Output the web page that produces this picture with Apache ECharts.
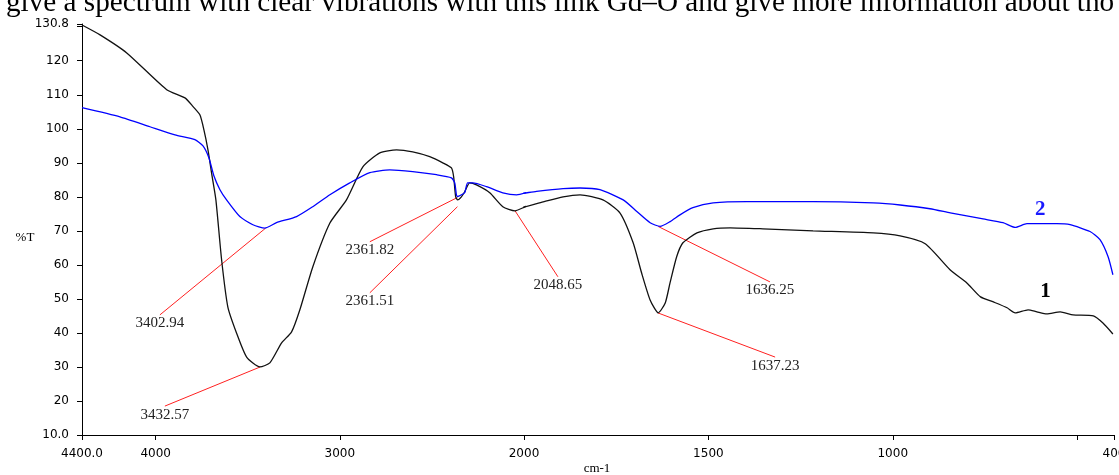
<!DOCTYPE html>
<html>
<head>
<meta charset="utf-8">
<script src="https://cdn.jsdelivr.net/npm/echarts@6/dist/echarts.min.js"></script>
<style>
  html, body { margin: 0; padding: 0; background: #fff; }
  #chart { width: 1119px; height: 475px; }
</style>
</head>
<body>
<div id="chart"></div>
<script>
// IR spectrum, wavenumber (cm-1) vs %T
const wnBlack = [4400, 4302, 4157, 3940, 3841, 3798, 3760, 3738, 3716, 3695, 3673, 3642, 3608, 3561, 3506, 3434, 3380, 3316, 3262, 3217, 3147, 3054, 2964, 2875, 2783, 2692, 2604, 2512, 2441, 2394, 2382, 2371, 2360, 2340, 2322, 2295, 2258, 2186, 2115, 2049, 2005, 1948, 1894, 1848, 1786, 1740, 1704, 1681, 1658, 1636, 1617, 1604, 1586, 1569, 1531, 1487, 1441, 1352, 1216, 1053, 980, 912, 844, 799, 762, 727, 690, 668, 633, 609, 582, 546, 511, 456, 430, 403]
const tBlack = [130.5, 127.6, 122.3, 111.5, 109.1, 106.6, 104.1, 99.7, 93.8, 86.5, 79.1, 61.5, 47.6, 40.0, 32.9, 30.0, 31.2, 37.1, 40.3, 46.8, 59.4, 72.3, 79.1, 88.8, 92.9, 93.8, 93.2, 91.8, 90.0, 88.5, 85.9, 80.0, 79.1, 80.0, 81.5, 84.1, 83.5, 81.2, 77.1, 75.9, 76.8, 78.5, 80.0, 80.6, 79.1, 75.3, 66.5, 57.6, 49.7, 45.9, 48.8, 54.7, 62.4, 66.5, 69.4, 70.6, 70.9, 70.6, 70.0, 69.4, 68.5, 66.2, 58.5, 54.7, 50.6, 49.1, 47.4, 45.9, 46.8, 46.2, 45.6, 46.2, 45.3, 45.0, 42.9, 39.7]

const wnBlue = [4400, 4194, 4031, 3895, 3787, 3743, 3711, 3684, 3651, 3615, 3543, 3472, 3407, 3344, 3235, 3147, 3054, 2946, 2837, 2729, 2604, 2475, 2394, 2376, 2367, 2360, 2340, 2322, 2306, 2278, 2204, 2115, 2040, 1966, 1894, 1848, 1794, 1731, 1694, 1658, 1631, 1604, 1577, 1542, 1487, 1396, 1216, 1053, 980, 899, 844, 755, 701, 668, 636, 555, 519, 465, 438, 416, 403]
const tBlue = [106.2, 103.5, 100.6, 98.2, 96.8, 95.0, 91.5, 86.2, 82.1, 79.1, 74.2, 71.8, 70.8, 72.4, 74.2, 77.1, 80.6, 84.1, 87.1, 87.9, 87.4, 86.5, 85.6, 84.1, 80.6, 80.1, 80.6, 81.2, 84.1, 84.1, 83.0, 81.2, 80.6, 81.6, 82.4, 82.6, 82.1, 79.1, 75.7, 72.4, 71.3, 72.7, 74.7, 76.8, 78.2, 78.6, 78.6, 78.2, 77.6, 76.5, 75.3, 73.5, 72.4, 71.0, 72.1, 72.1, 71.8, 69.8, 67.4, 62.4, 57.1]

// peak annotations: text, point on curve, where the label sits
const peakNames = ['3402.94', '3432.57', '2361.82', '2361.51', '2048.65', '1636.25', '1637.23']
const peakAt = [[3402.94, 70.8], [3432.57, 30.0], [2361.82, 79.8], [2361.51, 77.1], [2048.65, 75.9], [1636.25, 71.3], [1637.23, 45.9]]
const peakLabelAt = [[3977, 45.3], [3950, 18.5], [2837, 66.8], [2837, 51.8], [1908, 56.5], [1333, 55.0], [1319, 32.9]]

// curve numbers
const tagNames = ['1', '2']
const tagAt = [[586, 52.1], [600, 76.2]]

// axis ticks (split scale at 2000 cm-1)
const xTicksHigh = [4400, 4000, 3000]
const xTicksLow = [2000, 1500, 1000, 500, 400]
const xLabelsLow = [2000, 1500, 1000, 400]
const yTicks = [10, 20, 30, 40, 50, 60, 70, 80, 90, 100, 110, 120, 130, 130.8]
const yLabels = [10, 20, 30, 40, 50, 60, 70, 80, 90, 100, 110, 120, 130.8]

const chart = echarts.init(document.getElementById('chart'))
const pair = (xs, ys) => xs.map((x, i) => [x, ys[i]])
const black = pair(wnBlack, tBlack)
const blue = pair(wnBlue, tBlue)

const tickFont = { color: '#000', fontFamily: 'DejaVu Sans', fontSize: 12 }

function xAxis (gridIndex, min, max, ticks, labels) {
  return {
    type: 'value',
    gridIndex,
    min,
    max,
    inverse: true,
    axisLine: { onZero: false, lineStyle: { color: '#000', width: 1 } },
    axisTick: { customValues: ticks, length: 5, lineStyle: { color: '#000' } },
    axisLabel: {
      customValues: labels,
      margin: 13,
      ...tickFont,
      formatter: (v) => v === 4400 ? '4400.0' : String(v)
    },
    splitLine: { show: false }
  }
}

function lineSeries (idx, data, color) {
  return {
    type: 'line',
    xAxisIndex: idx,
    yAxisIndex: idx,
    data,
    symbol: 'none',
    smooth: 0.2,
    clip: true,
    silent: true,
    lineStyle: { color, width: 1.3 }
  }
}

const option = {
  animation: false,
  grid: [
    { left: 82, top: 24, width: 442, bottom: 40, outerBoundsMode: 'none' },
    { left: 524, top: 24, width: 590, bottom: 40, outerBoundsMode: 'none' }
  ],
  xAxis: [
    xAxis(0, 2000, 4400, xTicksHigh, xTicksHigh),
    xAxis(1, 400, 2000, xTicksLow, xLabelsLow)
  ],
  yAxis: [
    {
      type: 'value',
      gridIndex: 0,
      min: 10,
      max: 130.8,
      axisLine: { show: true, lineStyle: { color: '#000', width: 1 } },
      axisTick: { show: true, customValues: yTicks, length: 5, lineStyle: { color: '#000' } },
      axisLabel: {
        customValues: yLabels,
        margin: 13,
        ...tickFont,
        formatter: (v) => v === 10 ? '10.0' : String(v)
      },
      splitLine: { show: false }
    },
    { type: 'value', gridIndex: 1, min: 10, max: 130.8, show: false }
  ],
  series: [
    lineSeries(0, black, '#111'),
    lineSeries(1, black, '#111'),
    lineSeries(0, blue, '#0000ff'),
    lineSeries(1, blue, '#0000ff')
  ]
}
chart.setOption(option)

// annotations placed through the axes
const toPx = ([w, t]) => chart.convertToPixel({ gridIndex: w >= 2000 ? 0 : 1 }, [w, t])
const graphics = []
peakNames.forEach((name, i) => {
  const a = toPx(peakAt[i])
  const b = toPx(peakLabelAt[i])
  graphics.push({
    type: 'line',
    silent: true,
    shape: { x1: a[0], y1: a[1], x2: b[0], y2: b[1] },
    style: { stroke: '#ff2020', lineWidth: 1 }
  })
  graphics.push({
    type: 'text',
    x: b[0],
    y: b[1] + 1,
    style: { text: name, font: '15px "Liberation Serif"', fill: '#222', align: 'center', verticalAlign: 'top' }
  })
})
tagNames.forEach((name, i) => {
  const p = toPx(tagAt[i])
  graphics.push({
    type: 'text',
    x: p[0],
    y: p[1],
    style: { text: name, font: 'bold 21px "Liberation Serif"', fill: i === 0 ? '#000' : '#1a1aff', align: 'center', verticalAlign: 'middle' }
  })
})
graphics.push(
  { type: 'text', x: 25, y: 238, style: { text: '%T', font: '13px "Liberation Serif"', fill: '#000', align: 'center', verticalAlign: 'middle' } },
  { type: 'text', x: 597, y: 469, style: { text: 'cm-1', font: '13px "Liberation Serif"', fill: '#000', align: 'center', verticalAlign: 'middle' } },
  { type: 'text', x: 6, y: 3, style: { text: 'give a spectrum with clear vibrations with this link Gd–O and give more information about tho', font: '29.2px "Liberation Serif"', fill: '#000', align: 'left', verticalAlign: 'middle' } }
)
chart.setOption({ graphic: graphics })
window.addEventListener('resize', () => chart.resize())
</script>
</body>
</html>
